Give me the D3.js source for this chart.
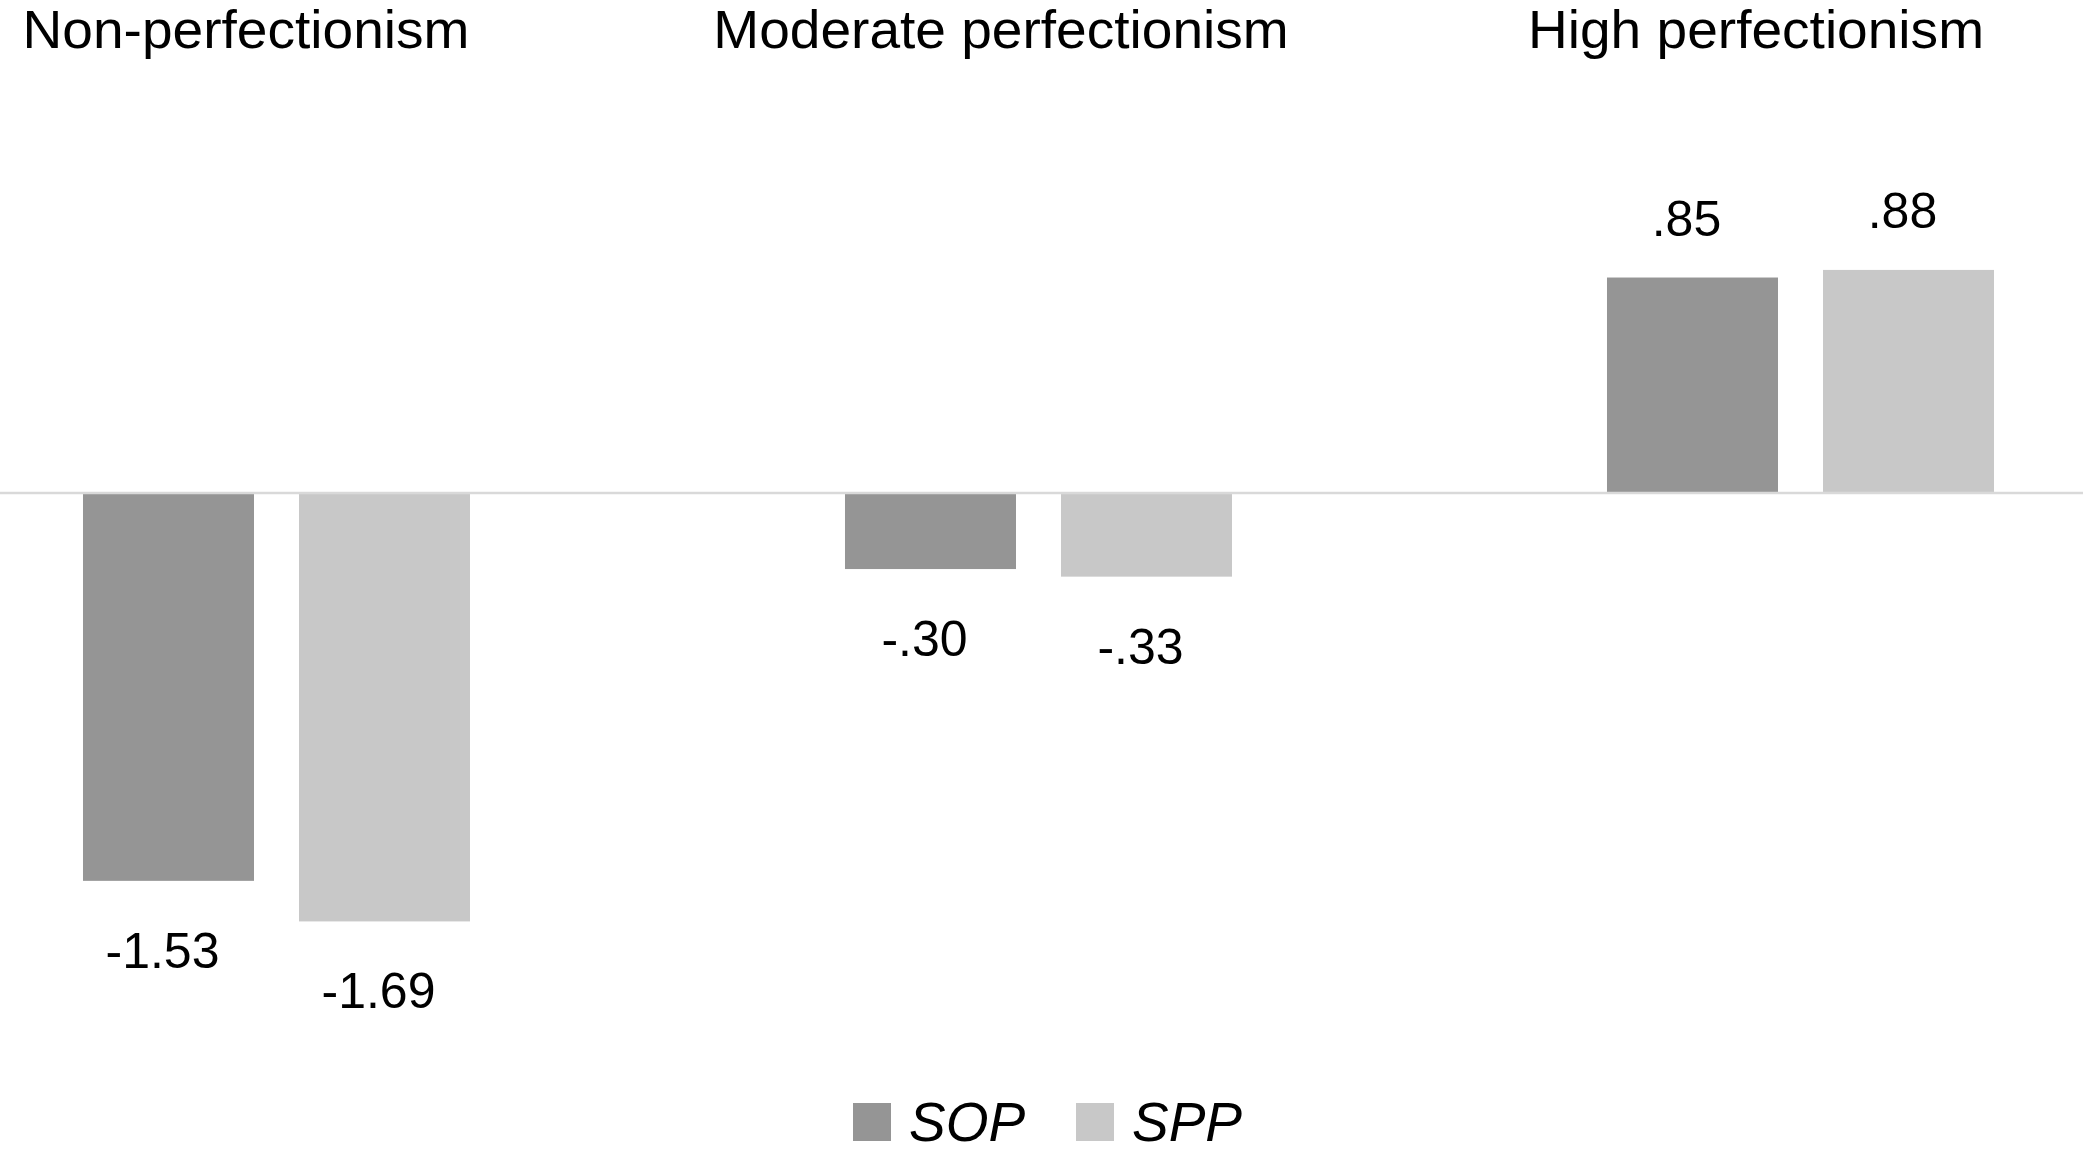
<!DOCTYPE html>
<html>
<head>
<meta charset="utf-8">
<script src="https://cdn.jsdelivr.net/npm/d3@7"></script>
<style>
  body { margin: 0; background: #fff; }
  text { font-family: "Liberation Sans", Arial, Helvetica, sans-serif; fill: #000; }
</style>
</head>
<body>
<div id="main"></div>
<script>
var groups = ["Non-perfectionism", "Moderate perfectionism", "High perfectionism"];
var series = ["SOP", "SPP"];
var sop = [-1.53, -0.30, 0.85];
var spp = [-1.69, -0.33, 0.88];
var valueLabels = [["-1.53", "-1.69"], ["-.30", "-.33"], [".85", ".88"]];
var colors = ["#959595", "#c8c8c8"];

var width = 2083,
  height = 1153;

var svg = d3
  .select("#main")
  .append("svg")
  .attr("width", width)
  .attr("height", height);

svg.append("rect").attr("width", width).attr("height", height).attr("fill", "#fff");

// groups are wider than the picture, first one starts off the left edge
var x0 = d3.scaleBand().domain(groups).range([-104.5, 2181.5]);
var x1 = d3
  .scaleBand()
  .domain(series)
  .range([0, x0.bandwidth()])
  .paddingInner(0.2083)
  .paddingOuter(0.868);
var y = d3.scaleLinear().domain([-2, 1]).range([1000, 239.5]);

// titles sit a bit left of their groups
var titleX = d3.scalePoint().domain(groups).range([246, 1756]);

var data = [];
groups.forEach(function(g, i) {
  data.push({ group: g, key: "SOP", value: sop[i], label: valueLabels[i][0] });
  data.push({ group: g, key: "SPP", value: spp[i], label: valueLabels[i][1] });
});

var bar = svg
  .selectAll("g.bar")
  .data(data)
  .enter()
  .append("g")
  .attr("class", "bar")
  .attr("transform", function(d) {
    return "translate(" + (x0(d.group) + x1(d.key)) + ",0)";
  });

bar
  .append("rect")
  .attr("x", 0)
  .attr("width", x1.bandwidth())
  .attr("y", function(d) {
    return d.value < 0 ? y(0) + 1 : y(d.value);
  })
  .attr("height", function(d) {
    return Math.abs(y(d.value) - y(0)) - 1;
  })
  .style("fill", function(d) {
    return colors[series.indexOf(d.key)];
  });

bar
  .append("text")
  .attr("x", x1.bandwidth() / 2 - 6)
  .attr("y", function(d) {
    return d.value < 0 ? y(d.value) + 87 : y(d.value) - 42;
  })
  .style("text-anchor", "middle")
  .style("font-size", "50px")
  .text(function(d) {
    return d.label;
  });

// zero line
svg
  .append("line")
  .attr("x1", 0)
  .attr("x2", width)
  .attr("y1", y(0))
  .attr("y2", y(0))
  .style("stroke", "#d9d9d9")
  .style("stroke-width", 2.3);

// group titles
svg
  .selectAll("text.title")
  .data(groups)
  .enter()
  .append("text")
  .attr("class", "title")
  .attr("transform", function(d) {
    return "translate(" + titleX(d) + ",48) scale(1.02,1)";
  })
  .style("text-anchor", "middle")
  .style("font-size", "54px")
  .text(function(d) {
    return d;
  });

// legend
var legendX = [853, 1076];
var legend = svg
  .selectAll("g.legend")
  .data(series)
  .enter()
  .append("g")
  .attr("class", "legend")
  .attr("transform", function(d, i) {
    return "translate(" + legendX[i] + ",1103)";
  });

legend
  .append("rect")
  .attr("width", 38)
  .attr("height", 38)
  .style("fill", function(d, i) {
    return colors[i];
  });

legend
  .append("text")
  .attr("x", 56)
  .attr("y", 38)
  .style("font-size", "55px")
  .style("font-style", "italic")
  .text(function(d) {
    return d;
  });
</script>
</body>
</html>
